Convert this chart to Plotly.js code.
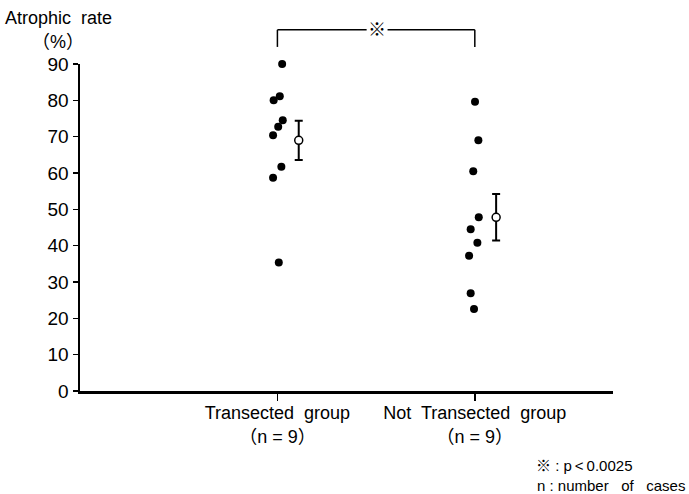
<!DOCTYPE html>
<html>
<head>
<meta charset="utf-8">
<script src="https://cdn.plot.ly/plotly-3.0.1.min.js"></script>
<style>html,body{margin:0;padding:0;background:#fff;}#chart{width:689px;height:494px;}</style>
</head>
<body>
<div id="chart"></div>
<script>
// ---- data ----
const groupLabels = ["Transected\u00a0 group<br>\uff08n = 9\uff09", "Not\u00a0 Transected\u00a0 group<br>\uff08n = 9\uff09"];
const groupPos = [1, 2];
const transectedValues = [90.0, 81.1, 80.0, 74.5, 72.7, 70.4, 61.7, 58.7, 35.4];
const transectedJitter = [0.024, 0.012, -0.019, 0.027, 0.004, -0.022, 0.020, -0.022, 0.007];
const notTransectedValues = [79.6, 69.0, 60.5, 47.8, 44.5, 40.8, 37.2, 26.9, 22.6];
const notTransectedJitter = [0.001, 0.018, -0.008, 0.020, -0.021, 0.013, -0.029, -0.021, -0.004];
const groupMeans = [69.0, 47.8];
const groupErrors = [5.4, 6.4];
const meanOffset = 0.108;
const yTicks = [0, 10, 20, 30, 40, 50, 60, 70, 80, 90];
const sigText = "\u203b";
const footnotes = ["\u203b : p\u202f<\u202f0.0025", "n : number\u00a0\u00a0 of\u00a0\u00a0 cases"];

// ---- layout helpers ----
const X0 = 0, X1 = 2.7, Y0 = 0, Y1 = 90;
const xp = v => (v - X0) / (X1 - X0);
const yp = v => (v - Y0) / (Y1 - Y0);
const FONT = "'Liberation Sans', Arial, 'Noto Sans CJK JP', sans-serif";

const traces = [
  {
    x: transectedValues.map((v, i) => groupPos[0] + transectedJitter[i]),
    y: transectedValues,
    mode: 'markers', type: 'scatter',
    marker: {color: '#000', size: 8},
    cliponaxis: false, hoverinfo: 'skip'
  },
  {
    x: notTransectedValues.map((v, i) => groupPos[1] + notTransectedJitter[i]),
    y: notTransectedValues,
    mode: 'markers', type: 'scatter',
    marker: {color: '#000', size: 8},
    cliponaxis: false, hoverinfo: 'skip'
  },
  {
    x: groupPos.map(p => p + meanOffset),
    y: groupMeans,
    mode: 'markers', type: 'scatter',
    marker: {color: '#fff', size: 8, line: {color: '#000', width: 1.5}},
    error_y: {type: 'data', array: groupErrors, visible: true, color: '#000', thickness: 2, width: 4},
    cliponaxis: false, hoverinfo: 'skip'
  }
];

const bracketTop = 99.4, bracketBottom = 94.7;
const gapL = 1.452, gapR = 1.558, symX = 1.505;
const lineStyle = {color: '#000', width: 1.5};
const shapes = [
  {type: 'line', xref: 'paper', yref: 'paper', x0: xp(groupPos[0]), x1: xp(groupPos[0]), y0: yp(bracketBottom), y1: yp(bracketTop), line: lineStyle},
  {type: 'line', xref: 'paper', yref: 'paper', x0: xp(groupPos[1]), x1: xp(groupPos[1]), y0: yp(bracketBottom), y1: yp(bracketTop), line: lineStyle},
  {type: 'line', xref: 'paper', yref: 'paper', x0: xp(groupPos[0]), x1: xp(gapL), y0: yp(bracketTop), y1: yp(bracketTop), line: lineStyle},
  {type: 'line', xref: 'paper', yref: 'paper', x0: xp(gapR), x1: xp(groupPos[1]), y0: yp(bracketTop), y1: yp(bracketTop), line: lineStyle}
];

const annotations = [
  {text: sigText, xref: 'paper', yref: 'paper', x: xp(symX), y: yp(bracketTop), showarrow: false, xanchor: 'center', yanchor: 'middle', font: {size: 18, color: '#000', family: FONT}},
  {text: 'Atrophic\u00a0 rate', xref: 'paper', yref: 'paper', x: -0.04, y: 1.141, showarrow: false, xanchor: 'center', yanchor: 'middle', font: {size: 18, color: '#000', family: FONT}},
  {text: '\uff08%\uff09', xref: 'paper', yref: 'paper', x: -0.042, y: 1.067, showarrow: false, xanchor: 'center', yanchor: 'middle', font: {size: 18, color: '#000', family: FONT}},
  {text: footnotes[0], xref: 'paper', yref: 'paper', x: 0.851, y: -0.229, showarrow: false, xanchor: 'left', yanchor: 'middle', font: {size: 15, color: '#000', family: FONT}},
  {text: footnotes[1], xref: 'paper', yref: 'paper', x: 0.853, y: -0.290, showarrow: false, xanchor: 'left', yanchor: 'middle', font: {size: 15, color: '#000', family: FONT}}
];

const layout = {
  width: 689, height: 494,
  margin: {l: 80, r: 76, t: 64, b: 103},
  paper_bgcolor: '#fff', plot_bgcolor: '#fff',
  showlegend: false,
  font: {family: FONT, color: '#000'},
  xaxis: {
    range: [X0, X1], tickvals: groupPos, ticktext: groupLabels,
    showline: true, linecolor: '#000', linewidth: 2.5,
    ticks: 'outside', ticklen: 7, tickwidth: 1.5, tickcolor: '#000',
    ticklabelstandoff: -3,
    showgrid: false, zeroline: false, fixedrange: true,
    tickfont: {size: 18, color: '#000', family: FONT}
  },
  yaxis: {
    range: [Y0, Y1], tickvals: yTicks,
    showline: true, linecolor: '#000', linewidth: 2.5,
    ticks: 'outside', ticklen: 5, tickwidth: 1.5, tickcolor: '#000',
    showgrid: false, zeroline: false, fixedrange: true,
    tickfont: {size: 19, color: '#000', family: FONT}
  },
  shapes: shapes,
  annotations: annotations
};

Plotly.newPlot('chart', traces, layout, {displayModeBar: false, staticPlot: true});
</script>
</body>
</html>
